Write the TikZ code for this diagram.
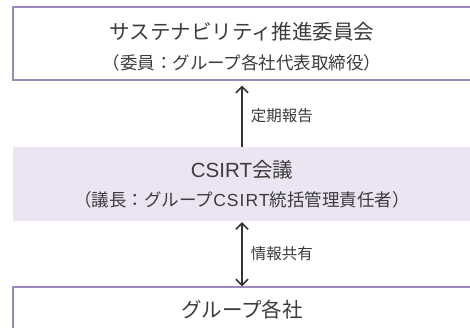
\documentclass[tikz,border=0pt]{standalone}
\usepackage{fontspec}
\setmainfont{Noto Sans CJK JP}
\newfontfamily\latinfont{Liberation Sans}
\newfontfamily\latinwide[LetterSpace=6]{Liberation Sans}
\usepackage{xcolor}
\usetikzlibrary{arrows.meta, positioning}
\definecolor{boxline}{HTML}{9B89BD}
\definecolor{boxfill}{HTML}{EBE5F3}
\definecolor{textgray}{HTML}{3C3C3C}
\definecolor{arrowgray}{HTML}{333333}

\begin{document}
\begin{tikzpicture}[
    x=1pt, y=-1pt,
    every node/.style={text=textgray, inner sep=0pt},
    whitebox/.style={draw=boxline, line width=1.3pt, fill=white, minimum width=458pt, minimum height=73pt},
    shadebox/.style={fill=boxfill, minimum width=458pt, minimum height=74pt},
    title/.style={font=\fontsize{20.5}{24}\selectfont},
    subtitle/.style={font=\fontsize{17.5}{20}\selectfont},
    flowlabel/.style={font=\fontsize{15.5}{18}\selectfont, right, xshift=8pt},
    barb/.tip={Straight Barb[length=6pt, width=12pt]},
    flow/.style={draw=arrowgray, line width=1.6pt, arrows={-barb}}
]
\useasboundingbox (0,0) rectangle (470,327);

\def\midx{242}

% Boxes
\node[whitebox] (committee) at (\midx, 43.5) {};
\node[shadebox] (csirt) at (\midx, 184) {};
\node[whitebox] (group) at (\midx, 323.5) {};

% Box texts
\node[title] (committeetitle) at (\midx, 32) {サステナビリティ推進委員会};
\node[subtitle] (committeesub) at (\midx, 63) {（委員：グループ各社代表取締役）};
\node[title] (csirttitle) at (\midx, 170) {{\latinfont CSIRT}会議};
\node[subtitle] (csirtsub) at (\midx, 200) {（議長：グループ{\latinwide CSIRT}統括管理責任者）};
\node[title] (grouptitle) at (\midx, 310) {グループ各社};

% Connecting arrows
\draw[flow, shorten >=5pt] (csirt.north) -- (committee.south)
    node[flowlabel, midway, yshift=-2pt] (reportlabel) {定期報告};
\draw[flow, arrows={barb-barb}, shorten <=1pt]
    (csirt.south) -- (group.north)
    node[flowlabel, midway] (sharelabel) {情報共有};

\end{tikzpicture}
\end{document}
